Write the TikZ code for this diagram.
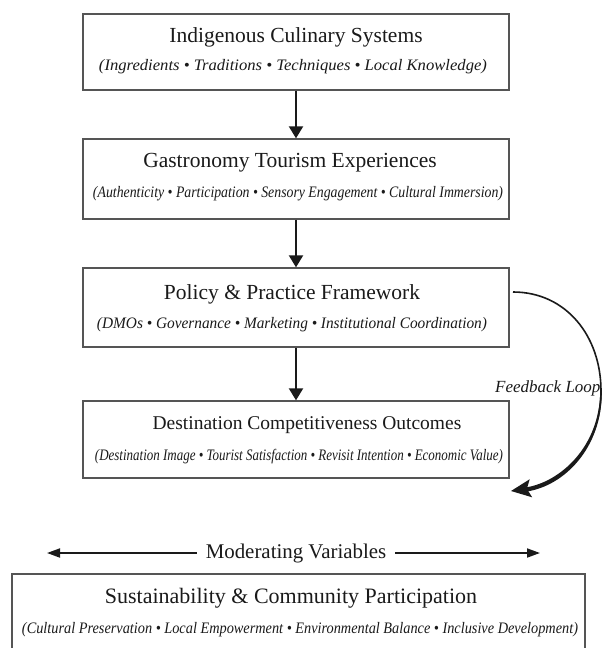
\documentclass[tikz,border=0pt]{standalone}
\usepackage{fontspec}
\setmainfont{Liberation Serif}
\usetikzlibrary{arrows.meta}
\definecolor{ink}{HTML}{1A1A1A}
\definecolor{frame}{HTML}{555555}
% title line at a given size, and an italic detail line squeezed to a given width
\newcommand{\ttl}[2]{{\fontsize{#1}{#1}\selectfont #2}}
\newcommand{\subtxt}[2]{\resizebox{#1pt}{\height}{\fontsize{16}{16}\selectfont\itshape #2}}
\begin{document}
\begin{tikzpicture}[x=1pt,y=-1pt,
  box/.style={draw=frame, line width=1.3pt, rectangle, inner sep=0pt, fill=white},
  lbl/.style={inner sep=0pt, text=ink},
  flow/.style={-{Triangle[length=12pt,width=14pt]}, line width=2pt, draw=ink},
  side/.style={-{Triangle[length=13pt,width=9pt]}, line width=1.8pt, draw=ink}]
\useasboundingbox[fill=white] (0,0) rectangle (603,648);
\clip (0,0) rectangle (603,648);

% stacked stages
\node[box, minimum width=426pt, minimum height=76pt] (b1) at (296,52) {};
\node[box, minimum width=426pt, minimum height=80pt] (b2) at (296,179) {};
\node[box, minimum width=426pt, minimum height=79pt] (b3) at (296,307.5) {};
\node[box, minimum width=426pt, minimum height=77pt] (b4) at (296,439.5) {};
\node[box, minimum width=573pt, minimum height=92pt] (b5) at (298.5,620) {};

\node[lbl] (t1) at (296,37) {\ttl{21.5}{Indigenous Culinary Systems}};
\node[lbl] (s1) at (293,67) {\subtxt{388}{(Ingredients • Traditions • Techniques • Local Knowledge)}};

\node[lbl] (t2) at (290,163) {\ttl{21.5}{Gastronomy Tourism Experiences}};
\node[lbl] (s2) at (298,194) {\subtxt{410}{(Authenticity • Participation • Sensory Engagement • Cultural Immersion)}};

\node[lbl] (t3) at (292,294) {\ttl{21.5}{Policy \& Practice Framework}};
\node[lbl] (s3) at (292,325) {\subtxt{390}{(DMOs • Governance • Marketing • Institutional Coordination)}};

\node[lbl] (t4) at (307,425) {\ttl{19.5}{Destination Competitiveness Outcomes}};
\node[lbl] (s4) at (299,457) {\subtxt{408}{(Destination Image • Tourist Satisfaction • Revisit Intention • Economic Value)}};

\node[lbl] (t5) at (291,598) {\ttl{22}{Sustainability \& Community Participation}};
\node[lbl] (s5) at (300,630) {\subtxt{556}{(Cultural Preservation • Local Empowerment • Environmental Balance • Inclusive Development)}};

% downward flow
\draw[flow] (b1) -- (b2);
\draw[flow] (b2) -- (b3);
\draw[flow] (b3) -- (b4);

% moderating variables
\node[lbl, inner xsep=9pt] (mod) at (296,553) {\ttl{20.9}{Moderating Variables}};
\coordinate (ml) at (47,553);
\coordinate (mr) at (540,553);
\draw[side] (mod.west) -- (ml);
\draw[side] (mod.east) -- (mr);

% feedback loop: a thin stroke that swells towards its head
\coordinate (fbs) at (513,292);
\coordinate (fbe) at (511,491);
\draw[line width=1.6pt, draw=ink, -{Stealth[length=20pt,width=18pt,inset=4pt]}]
  (fbs) .. controls (566,292) and (601,336) .. (601,391)
        .. controls (601,448) and (562,484) .. (fbe);
\fill[ink] (601.8,391) .. controls (602.3,449) and (563,486.5) .. (526,491.6)
  -- (526,487.4) .. controls (560,482) and (599.8,447) .. (600.2,391) -- cycle;
\node[lbl, anchor=west] (fbl) at (495,388) {\ttl{17}{\itshape Feedback Loop}};
\end{tikzpicture}
\end{document}
